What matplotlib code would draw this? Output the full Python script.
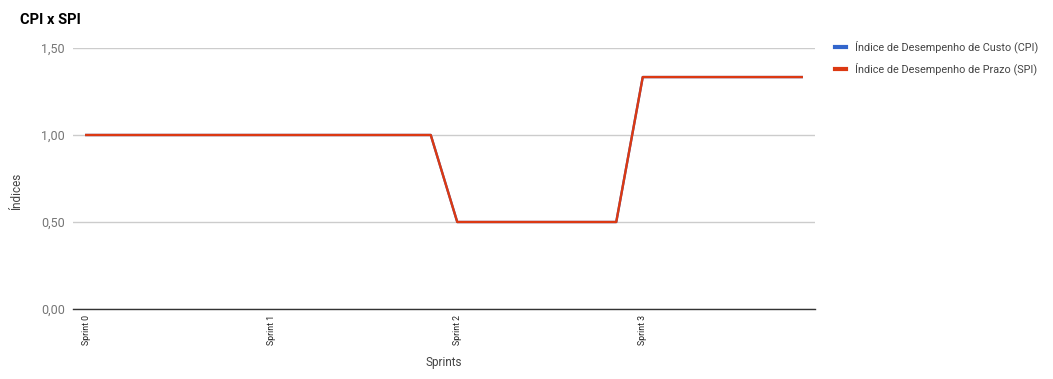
import matplotlib
matplotlib.use("Agg")
import matplotlib.pyplot as plt
from matplotlib.lines import Line2D

plt.rcParams['font.family'] = ['Roboto', 'DejaVu Sans']

# one point per day, 7 days per sprint
labels = ["Sprint 0", "", "", "", "", "", "",
          "Sprint 1", "", "", "", "", "", "",
          "Sprint 2", "", "", "", "", "", "",
          "Sprint 3", "", "", "", "", "", ""]
cpi = [1.0] * 14 + [0.5] * 7 + [1.333] * 7
spi = [1.0] * 14 + [0.5] * 7 + [1.333] * 7
yticks = [0.0, 0.5, 1.0, 1.5]
ytick_labels = ["0,00", "0,50", "1,00", "1,50"]

fig = plt.figure(figsize=(10.53, 3.79), dpi=100)
ax = fig.add_axes([73 / 1053, 1 - 309 / 379, (815 - 73) / 1053, (309 - 48) / 379])

x = list(range(len(labels)))
ax.plot(x, cpi, color="#3366cc", lw=1.7, label="Índice de Desempenho de Custo (CPI)")
ax.plot(x, spi, color="#dc3912", lw=1.7, label="Índice de Desempenho de Prazo (SPI)")

ax.set_xlim(-0.5, len(labels) - 0.5)
ax.set_ylim(0, 1.5)
ax.set_yticks(yticks)
ax.set_yticklabels(ytick_labels, color="#757575", fontsize=9)
ax.set_xticks(x)
ax.set_xticklabels(labels, rotation=90, fontsize=6.3, color="#222222", va="top")
ax.tick_params(axis="both", length=0)
ax.tick_params(axis="y", pad=6)
ax.tick_params(axis="x", pad=4)
ax.grid(axis="y", color="#cccccc", lw=1)
ax.set_axisbelow(True)
for s in ["top", "right", "left"]:
    ax.spines[s].set_visible(False)
ax.spines["bottom"].set_color("#333333")
ax.spines["bottom"].set_linewidth(1)

ax.set_xlabel("Sprints", color="#444444", fontsize=8.5, labelpad=8)
ax.set_ylabel("Índices", color="#444444", fontsize=8.5)
ax.yaxis.set_label_coords(-0.067, 0.45)
fig.text(20 / 1053, 1 - 20 / 379, "CPI x SPI", fontsize=10.5, fontweight="bold",
         color="#000000", va="center", ha="left")

handles = [Line2D([], [], color="#3366cc", lw=3),
           Line2D([], [], color="#dc3912", lw=3)]
fig.legend(handles, ["Índice de Desempenho de Custo (CPI)", "Índice de Desempenho de Prazo (SPI)"],
           loc="upper left", bbox_to_anchor=(825 / 1053, 1 - 31 / 379), frameon=False,
           fontsize=7.8, labelcolor="#444444", handlelength=1.0, handletextpad=0.9,
           labelspacing=0.85)

fig.savefig("out.png", dpi=100, facecolor="white")
